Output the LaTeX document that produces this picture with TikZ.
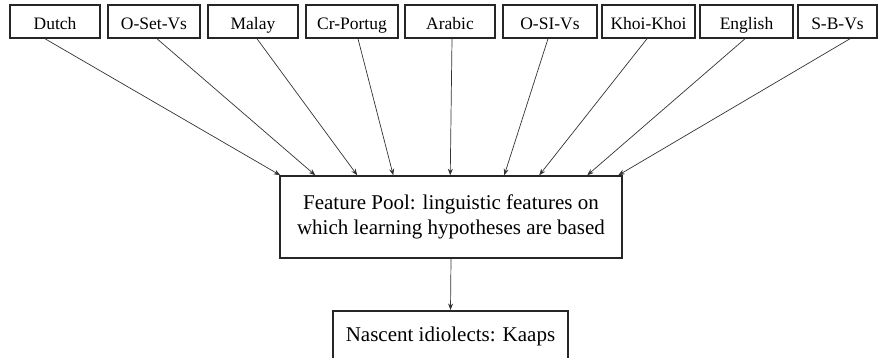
\documentclass[tikz,border=0pt]{standalone}
\usepackage{fontspec}
\setmainfont{Liberation Serif}
\usetikzlibrary{arrows.meta}
\begin{document}
\begin{tikzpicture}[x=1pt,y=-1pt,
  src/.style={draw=black!85,line width=1.5pt,minimum height=33pt,inner sep=0pt,text height=16.5pt,text depth=0pt,font=\fontsize{17.5}{20}\selectfont},
  bigbox/.style={draw=black!85,line width=1.5pt,inner sep=0pt,font=\fontsize{21}{25}\selectfont,align=center},
  feed/.style={draw=black!80,line width=0.7pt,-{Stealth[length=6.5pt,width=5pt]}}]
\useasboundingbox (0,0) rectangle (880,358);
\clip (0,0) rectangle (880,358);
\node[src,minimum width=90pt] (dutch) at (55,21.5) {Dutch};
\node[src,minimum width=92pt] (oset) at (154,21.5) {O-Set-Vs};
\node[src,minimum width=90pt] (malay) at (253,21.5) {Malay};
\node[src,minimum width=92pt] (crp) at (352,21.5) {Cr-Portug};
\node[src,minimum width=90pt] (arabic) at (450,21.5) {Arabic};
\node[src,minimum width=94pt] (osi) at (550,21.5) {O-SI-Vs};
\node[src,minimum width=93pt] (khoi) at (648.5,21.5) {Khoi-Khoi};
\node[src,minimum width=93pt] (eng) at (746.5,21.5) {English};
\node[src,minimum width=79pt] (sbv) at (837.5,21.5) {S-B-Vs};
\node[bigbox,minimum width=342pt,minimum height=82pt] (fp) at (451,217) {Feature Pool: linguistic features on\\which learning hypotheses are based};
\node[bigbox,minimum width=235pt,minimum height=66pt,anchor=north] (nas) at (450.5,310) {};
\node[font=\fontsize{21}{25}\selectfont] (nastext) at (450.5,336) {Nascent idiolects: Kaaps};
\draw[feed] ([xshift=-10pt]dutch.south) -- ([xshift=1pt]fp.north west);
\draw[feed] ([xshift=3pt]oset.south) -- ([xshift=36pt]fp.north west);
\draw[feed] ([xshift=4pt]malay.south) -- ([xshift=78pt]fp.north west);
\draw[feed] ([xshift=6pt]crp.south) -- ([xshift=114pt]fp.north west);
\draw[feed] ([xshift=2pt]arabic.south) -- ([xshift=171pt]fp.north west);
\draw[feed] ([xshift=-2pt]osi.south) -- ([xshift=225pt]fp.north west);
\draw[feed] ([xshift=-1.5pt]khoi.south) -- ([xshift=260pt]fp.north west);
\draw[feed] ([xshift=-1.5pt]eng.south) -- ([xshift=308pt]fp.north west);
\draw[feed] ([xshift=12.5pt]sbv.south) -- ([xshift=339pt]fp.north west);
\draw[feed] (fp.south) -- (nas.north);
\end{tikzpicture}
\end{document}
